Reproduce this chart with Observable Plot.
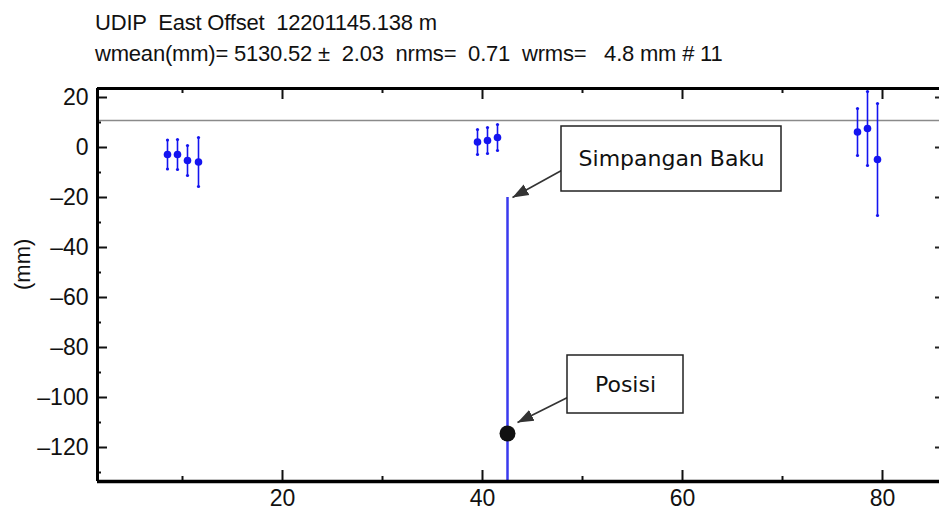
<!DOCTYPE html>
<html>
<head>
<meta charset="utf-8">
<script src="https://cdn.jsdelivr.net/npm/d3@7"></script>
<script src="https://cdn.jsdelivr.net/npm/@observablehq/plot@0.6"></script>
<style>
  html, body { margin: 0; padding: 0; background: #fff; }
  #wrap { position: relative; width: 939px; height: 513px; overflow: hidden; }
  .title { position: absolute; left: 95px; font-family: "Liberation Sans", Arial, sans-serif; font-size: 22px; color: #111; white-space: pre; letter-spacing: -0.2px; }
  #t1 { top: 10px; }
  #t2 { top: 41px; }
  #chart { position: absolute; left: 0; top: 70px; }
</style>
</head>
<body>
<div id="wrap">
  <div class="title" id="t1">UDIP  East Offset  12201145.138 m</div>
  <div class="title" id="t2">wmean(mm)= 5130.52 ±  2.03  nrms=  0.71  wrms=   4.8 mm # 11</div>
  <div id="chart"></div>
</div>
<script>
// ---- data ----
const obsX     = [8.5, 9.5, 10.5, 11.6, 39.5, 40.5, 41.5, 42.5, 77.5, 78.5, 79.5];
const obsY     = [-2.8, -2.8, -5.2, -5.8, 2.2, 2.8, 4.0, -114.4, 6.2, 7.6, -4.8];
const obsSigma = [5.8, 6.0, 6.0, 9.8, 5.0, 5.2, 5.2, 94.4, 9.4, 14.8, 22.4];
const highlightIndex = 7;
const refLineY = [10.8];
const xDomain = [1.5, 85.7];
const yDomain = [-133.6, 23.6];
const xMajor = [20, 40, 60, 80];
const xMinor = [10, 30, 50, 70];
const yMajor = [-120, -100, -80, -60, -40, -20, 0, 20];
const yMinor = [-130, -110, -90, -70, -50, -30, -10, 10];
const yLabel = ["(mm)"];
// annotation boxes and arrows (data units)
const boxLabels = ["Simpangan Baku", "Posisi"];
const boxX1 = [47.9, 48.5];
const boxX2 = [69.9, 60.1];
const boxYTop = [8.4, -83.2];
const boxYBottom = [-17.6, -106.4];
const arrowFromX = [47.9, 48.5];
const arrowFromY = [-9.2, -100];
const arrowToX = [43.0, 43.5];
const arrowToY = [-20, -110];

// ---- build tables ----
const rows = obsX.map((x, i) => ({x, y: obsY[i], s: obsSigma[i], i}));
const normal = rows.filter(d => d.i !== highlightIndex);
const hi = rows.filter(d => d.i === highlightIndex);
const boxes = boxLabels.map((label, i) => ({label, x1: boxX1[i], x2: boxX2[i], y1: boxYBottom[i], y2: boxYTop[i]}));
const arrows = arrowFromX.map((x1, i) => ({x1, y1: arrowFromY[i], x2: arrowToX[i], y2: arrowToY[i]}));

const W = 939, H = 443, mL = 97, mR = 0, mT = 18, mB = 32;
const pW = W - mL - mR, pH = H - mT - mB;
const blue = "#1414f0";
const font = "'Liberation Sans', Arial, sans-serif";

function filledArrow(color, context) {
  const ns = "http://www.w3.org/2000/svg";
  const doc = (context && context.document) || document;
  const m = doc.createElementNS(ns, "marker");
  m.setAttribute("viewBox", "-16 -7 17 14");
  m.setAttribute("markerWidth", 17);
  m.setAttribute("markerHeight", 14);
  m.setAttribute("markerUnits", "userSpaceOnUse");
  m.setAttribute("refX", 0);
  m.setAttribute("refY", 0);
  m.setAttribute("orient", "auto");
  const p = doc.createElementNS(ns, "path");
  p.setAttribute("d", "M0,0L-16,-6L-16,6Z");
  p.setAttribute("fill", color);
  p.setAttribute("stroke", "none");
  m.appendChild(p);
  return m;
}

const chart = Plot.plot({
  width: W, height: H,
  marginLeft: mL, marginRight: mR, marginTop: mT, marginBottom: mB,
  style: {fontFamily: font, fontSize: "22px", background: "white", color: "#111"},
  x: {domain: xDomain},
  y: {domain: yDomain},
  marks: [
    // reference line
    Plot.ruleY(refLineY, {stroke: "#8a8a8a", strokeWidth: 1.5}),
    // inward ticks: left
    Plot.tickY(yMajor, {y: d => d, insetRight: pW - 10, stroke: "#111", strokeWidth: 2}),
    Plot.tickY(yMinor, {y: d => d, insetRight: pW - 4, stroke: "#111", strokeWidth: 2}),
    // right
    Plot.tickY(yMajor, {y: d => d, insetLeft: pW - 4, stroke: "#222", strokeWidth: 2}),
    // bottom
    Plot.tickX(xMajor, {x: d => d, insetTop: pH - 11, stroke: "#111", strokeWidth: 2}),
    Plot.tickX(xMinor, {x: d => d, insetTop: pH - 5, stroke: "#111", strokeWidth: 2}),
    // top
    Plot.tickX(xMajor, {x: d => d, insetBottom: pH - 11, stroke: "#111", strokeWidth: 2}),
    Plot.tickX(xMinor, {x: d => d, insetBottom: pH - 5, stroke: "#111", strokeWidth: 2}),
    // axes labels
    Plot.axisY(yMajor, {tickSize: 0, tickPadding: 9, label: null, fontSize: 23, tickFormat: d => d < 0 ? "\u2013" + Math.abs(d) : String(d)}),
    Plot.axisX(xMajor, {tickSize: 0, tickPadding: 8, label: null, fontSize: 23}),
    Plot.text(yLabel, {text: d => d, frameAnchor: "left", rotate: -90, dx: -75, dy: 5, fontSize: 22}),
    // error bars
    Plot.ruleX(normal, {x: "x", y1: d => d.y - d.s, y2: d => d.y + d.s, stroke: blue, strokeWidth: 1.6, clip: true}),
    Plot.dot(normal, {x: "x", y: d => d.y - d.s, r: 1.6, fill: blue}),
    Plot.dot(normal, {x: "x", y: d => d.y + d.s, r: 1.6, fill: blue}),
    Plot.dot(normal, {x: "x", y: "y", r: 3.8, fill: blue}),
    Plot.ruleX(hi, {x: "x", y1: d => d.y - d.s, y2: d => d.y + d.s, stroke: "#3a3aee", strokeWidth: 2.5, clip: true}),
    Plot.dot(hi, {x: "x", y: "y", r: 8, fill: "#111"}),
    // frame (left, top, bottom)
    Plot.ruleX([xDomain[0]], {stroke: "#000", strokeWidth: 3}),
    Plot.ruleY([yDomain[1]], {stroke: "#000", strokeWidth: 3}),
    Plot.ruleY([yDomain[0]], {stroke: "#000", strokeWidth: 3.5}),
    // annotations
    Plot.link(arrows, {x1: "x1", y1: "y1", x2: "x2", y2: "y2", stroke: "#333", strokeWidth: 1.6, markerEnd: filledArrow}),
    Plot.rect(boxes, {x1: "x1", x2: "x2", y1: "y1", y2: "y2", fill: "white", stroke: "#222", strokeWidth: 1.5}),
    Plot.text(boxes, {x: d => (d.x1 + d.x2) / 2, y: d => (d.y1 + d.y2) / 2, text: "label", fontFamily: "'DejaVu Sans', Verdana, sans-serif", fontSize: 22, fill: "#111"})
  ]
});
document.getElementById("chart").appendChild(chart);
</script>
</body>
</html>
